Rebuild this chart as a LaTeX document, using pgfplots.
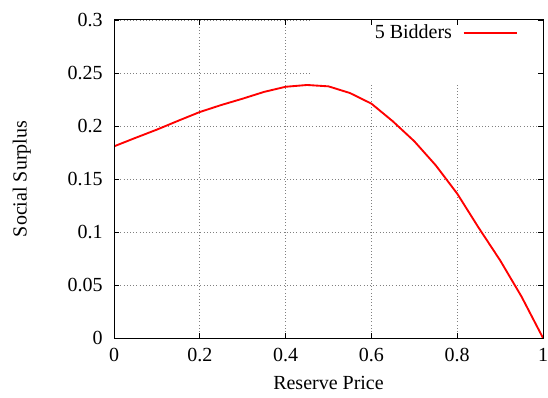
\documentclass[border=0pt]{standalone}
\usepackage{fontspec}
\setmainfont{Liberation Serif}
\usepackage{pgfplots}
\pgfplotsset{compat=1.18}
\pgfdeclarelayer{mask}
\pgfplotsset{
  layers/mylayers/.define layer set={
    axis background,axis grid,mask,axis ticks,main,axis lines,axis tick labels,axis descriptions,axis foreground
  }{
    grid style={/pgfplots/on layer=axis grid},
    tick style={/pgfplots/on layer=axis ticks},
    axis line style={/pgfplots/on layer=axis lines},
    label style={/pgfplots/on layer=axis descriptions},
    legend style={/pgfplots/on layer=axis descriptions},
    title style={/pgfplots/on layer=axis descriptions},
    ticklabel style={/pgfplots/on layer=axis tick labels},
    axis background@ style={/pgfplots/on layer=axis background},
  },
}
\pgfplotstableread{
x y
0.00 0.1808
0.05 0.1888
0.10 0.1966
0.15 0.2050
0.20 0.2132
0.25 0.2198
0.30 0.2258
0.35 0.2322
0.40 0.2370
0.45 0.2387
0.50 0.2374
0.55 0.2311
0.60 0.2211
0.65 0.2044
0.70 0.1856
0.75 0.1629
0.80 0.1362
0.85 0.1040
0.90 0.0733
0.95 0.0390
1.00 0.0000
}\surplus
\begin{document}
\begin{tikzpicture}[font=\fontsize{15}{18}\selectfont]
\begin{axis}[
  name=ax,
  set layers=mylayers,
  scale only axis,
  width=321.75pt, height=238.5pt,
  xmin=0, xmax=1, ymin=0, ymax=0.3,
  xtick={0,0.2,...,1.0},
  ytick={0,0.05,...,0.3},
  xticklabels={0,0.2,0.4,0.6,0.8,1},
  yticklabels={0,0.05,0.1,0.15,0.2,0.25,0.3},
  /pgf/number format/assume math mode=true,
  tick align=inside,
  tick pos=both,
  major tick length=4pt,
  tick style={black, line width=0.6pt},
  axis line style={black, line width=0.75pt},
  grid=major,
  major grid style={dotted, gray, line width=0.6pt},
  xticklabel style={yshift=-4pt},
  yticklabel style={xshift=-5pt},
  xlabel={Reserve Price},
  ylabel={Social Surplus},
  x label style={at={(axis description cs:0.5,-0.142)}, anchor=center},
  y label style={at={(axis description cs:-0.215,0.5)}, anchor=center},
  legend style={draw=none, fill=none, at={(0.942,0.96)}, anchor=east, inner sep=0pt, column sep=6pt, font=\fontsize{15}{18}\selectfont},
  legend plot pos=right,
  legend cell align=right,
  legend image code/.code={\draw[#1] (0pt,0pt) -- (40pt,0pt);},
]
\begin{pgfonlayer}{mask}
\fill[white] (axis cs:0.456,0.2384) rectangle (axis cs:1,0.3);
\end{pgfonlayer}
\addplot[red, line width=1.4pt] table[x=x,y=y] {\surplus};
\addlegendentry{5 Bidders}
\end{axis}
\pgfresetboundingbox
\path[use as bounding box] ([xshift=-85.5pt,yshift=-44.25pt]ax.south west) rectangle ([xshift=3.75pt,yshift=15pt]ax.north east);
\end{tikzpicture}
\end{document}
